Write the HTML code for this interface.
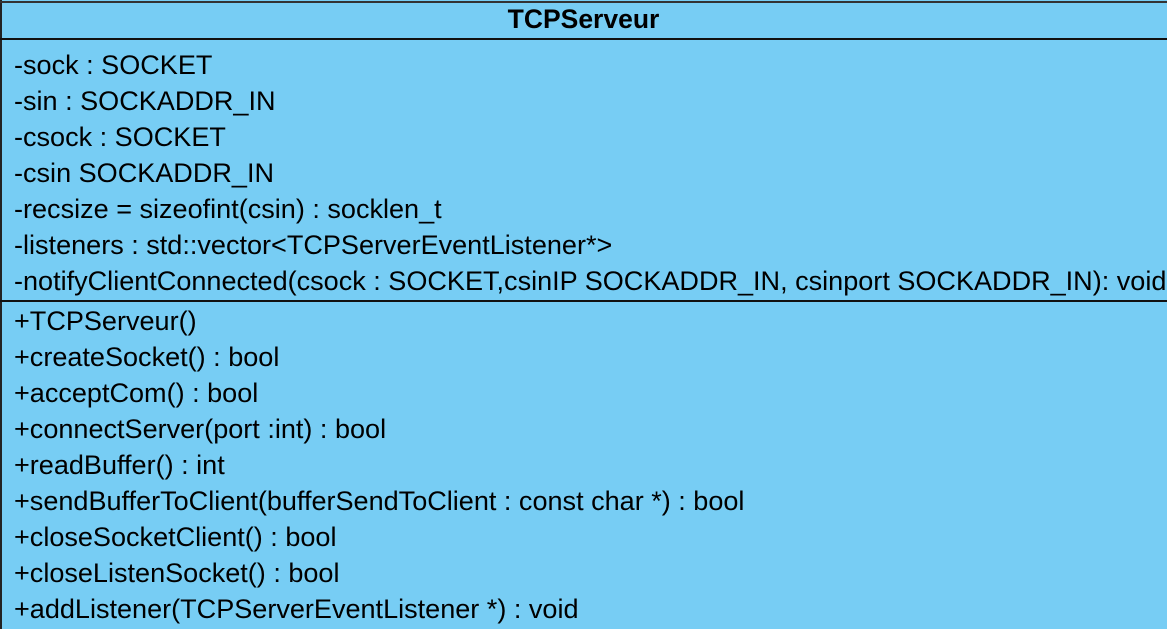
<!DOCTYPE html>
<html><head><style>
body{margin:0;width:1167px;height:629px;overflow:hidden;background:#77CDF4;font-family:"Liberation Sans",sans-serif;}
.box{position:absolute;left:0;top:0;width:1167px;height:629px;background:#77CDF4;border-left:2px solid #222;box-sizing:border-box;}
.top{position:absolute;left:0;top:1px;width:1167px;height:2px;background:#333;}
.title{position:absolute;left:0;width:1167px;top:4px;text-align:center;font-weight:bold;font-size:26.5px;line-height:30px;color:#000;}
.hl{position:absolute;left:0;width:1167px;height:2px;background:#111;}
.row{position:absolute;left:14px;font-size:27.05px;line-height:36px;color:#000;white-space:nowrap;}
</style></head><body>
<div class="box"></div>
<div class="top"></div>
<div class="title">TCPServeur</div>
<div class="hl" style="top:38px"></div>
<div class="row" style="top:47px">-sock : SOCKET</div>
<div class="row" style="top:83px">-sin : SOCKADDR_IN</div>
<div class="row" style="top:119px">-csock : SOCKET</div>
<div class="row" style="top:155px">-csin SOCKADDR_IN</div>
<div class="row" style="top:191px">-recsize = sizeofint(csin) : socklen_t</div>
<div class="row" style="top:227px">-listeners : std::vector&lt;TCPServerEventListener*&gt;</div>
<div class="row" style="top:263px">-notifyClientConnected(csock : SOCKET,csinIP SOCKADDR_IN, csinport SOCKADDR_IN): void</div>
<div class="hl" style="top:300px"></div>
<div class="row" style="top:303px">+TCPServeur()</div>
<div class="row" style="top:339px">+createSocket() : bool</div>
<div class="row" style="top:375px">+acceptCom() : bool</div>
<div class="row" style="top:411px">+connectServer(port :int) : bool</div>
<div class="row" style="top:447px">+readBuffer() : int</div>
<div class="row" style="top:483px">+sendBufferToClient(bufferSendToClient : const char *) : bool</div>
<div class="row" style="top:519px">+closeSocketClient() : bool</div>
<div class="row" style="top:555px">+closeListenSocket() : bool</div>
<div class="row" style="top:591px">+addListener(TCPServerEventListener *) : void</div>
</body></html>
